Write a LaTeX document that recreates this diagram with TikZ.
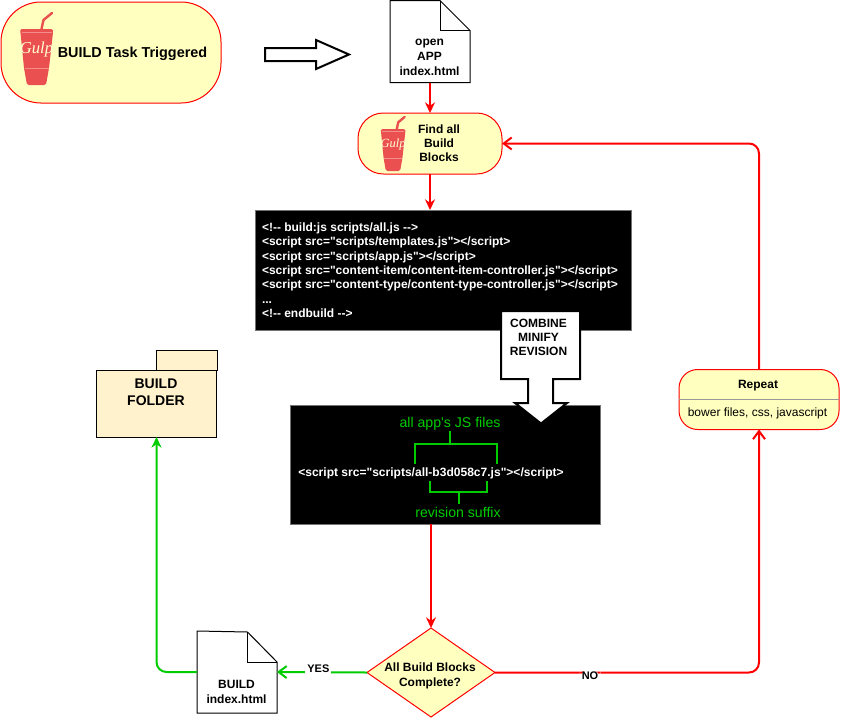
\documentclass[tikz,border=0pt]{standalone}
\usepackage{fontspec}
\newfontfamily\arial{Liberation Sans}
\newfontfamily\gulpfont[ItalicFont={Liberation Serif Italic}]{Liberation Serif}
\usetikzlibrary{arrows.meta,shapes.geometric,positioning}
\definecolor{pill}{HTML}{FFFFC0}
\definecolor{folderfill}{HTML}{FFF2CC}
\definecolor{gulpred}{HTML}{EB5050}
\definecolor{lime}{HTML}{00CC00}
\def\u{0.75pt}
\tikzset{
  x=0.75pt,y=-0.75pt,
  every node/.style={font=\arial\fontsize{9}{10.7}\selectfont\bfseries,inner sep=0pt,outer sep=0pt,align=center},
  pillbox/.style={draw=red,fill=pill,line width=0.75pt,rectangle},
  docbox/.style={rectangle,minimum width=80*\u,minimum height=82*\u},
  docline/.style={draw=black,fill=white,line width=0.75pt,line join=miter},
  codebox/.style={rectangle,fill=black,draw=black!55,line width=0.5pt},
  codetext/.style={text=white,align=left,font=\arial\fontsize{9.03}{10.7}\selectfont\bfseries},
  greentext/.style={text=lime,font=\arial\fontsize{10.6}{12}\selectfont},
  bracket/.style={draw=lime,line width=1.1pt},
  redflow/.style={draw=red,line width=1.5pt,-{Stealth[length=8pt,width=7.5pt]}},
  redopen/.style={draw=red,line width=1.5pt,rounded corners=7.5pt,-{Straight Barb[length=6pt,width=9pt]}},
  greenopen/.style={draw=lime,line width=1.5pt,-{Straight Barb[length=6pt,width=9pt]}},
  greenflow/.style={draw=lime,line width=1.5pt,rounded corners=7.5pt,-{Stealth[length=8pt,width=7.5pt]}},
  edgelabel/.style={fill=white,inner xsep=1.5pt,inner ysep=1.5pt,font=\arial\fontsize{8.25}{9.5}\selectfont\bfseries},
  blockarrow/.style={draw=black,line width=1.5pt,fill=white,line join=miter},
  gulpcup/.pic={
    \draw[gulpred,line width=1.8pt,line cap=round,line join=round] (5,0) -- (7,-9) -- (15.5,-16);
    \fill[gulpred,rounded corners=1.2pt] (-16.5,0) -- (16.5,0) -- (16.5,3.5) -- (12.5,39) -- (9.5,56) -- (-9.5,56) -- (-12.5,39) -- (-16,3.5) -- cycle;
    \draw[white!35!gulpred,line width=0.4pt] (-14.5,3.6) -- (15,3.6);
    \draw[white!35!gulpred,line width=0.4pt] (-12,39) -- (12,39);
    \node[transform shape,text=pill!70!white,font=\gulpfont\fontsize{12.5}{13}\selectfont\itshape] (-name) at (0,20) {Gulp};
  },
}
\begin{document}
\begin{tikzpicture}
\useasboundingbox (0,0) rectangle (841,721);
% Nodes
\node[pillbox,minimum width=220*\u,minimum height=101*\u,rounded corners=30pt] (task) at (111,52.5) {};
\pic (gulpa) at (36.5,29) {gulpcup};
\node[font=\arial\fontsize{10.8}{12}\selectfont\bfseries] (tasktext) at (132.5,54) {BUILD Task Triggered};

\node[docbox] (opendoc) at (430,41.5) {};
\draw[docline] (opendoc.north west) -- (440,0.5) -- (470,30.5) -- (opendoc.south east) -- (opendoc.south west) -- cycle;
\draw[line width=0.75pt] (440,0.5) -- (440,30.5) -- (470,30.5);
\node[font=\arial\fontsize{9}{11.3}\selectfont\bfseries] (opentext) at (429.5,57.5) {open\\APP\\index.html};

\draw[blockarrow] (265,48) -- (316,48) -- (316,40) -- (349,54.5) -- (316,69) -- (316,61) -- (265,61) -- cycle;

\node[pillbox,minimum width=144*\u,minimum height=61*\u,rounded corners=19pt] (find) at (430,143.5) {};
\pic[scale=0.75] (gulpb) at (393,129) {gulpcup};
\node (findtext) at (439,143) {Find all\\Build\\Blocks};

\node[codebox,minimum width=376*\u,minimum height=120*\u] (code) at (443,270) {};
\node[codetext,anchor=north west,font=\arial\fontsize{9}{10.7}\selectfont\bfseries] (codetxt) at (262,223) {<!-- build:js scripts/all.js -->\\
<script src="scripts/templates.js"></script>\\
<script src="scripts/app.js"></script>\\
<script src="content-item/content-item-controller.js"></script>\\
<script src="content-type/content-type-controller.js"></script>\\
...\\
<!-- endbuild -->};

\node[codebox,minimum width=310*\u,minimum height=119*\u] (result) at (445,464.5) {};
\node[codetext] (resulttxt) at (431,473) {<script src="scripts/all-b3d058c7.js"></script>};
\node[greentext] (alljs) at (450,424) {all app's JS files};
\node[greentext] (revision) at (458,512) {revision suffix};
\draw[bracket] (415,464) -- (415,444) -- (497,444) -- (497,464);
\draw[bracket] (450,431) -- (450,444);
\draw[bracket] (430,481) -- (430,492) -- (487,492) -- (487,481);
\draw[bracket] (459,492) -- (459,504);

\draw[blockarrow] (501,311) -- (580,311) -- (580,379) -- (553,379) -- (553,403) -- (567,403) -- (541,423.5) -- (515,403) -- (528,403) -- (528,379) -- (501,379) -- cycle;
\node (combine) at (538.5,337.5) {COMBINE\\MINIFY\\REVISION};

\node[diamond,draw=red,fill=pill,line width=0.75pt,minimum width=128*\u,minimum height=89*\u,aspect=1.44] (blocks) at (431,672.5) {};
\node (blockstext) at (430,676) {All Build Blocks\\Complete?};

\node[docbox] (builddoc) at (237,672) {};
\draw[docline] (builddoc.north west) -- (247.5,632) -- (277,662) -- (builddoc.south east) -- (builddoc.south west) -- cycle;
\draw[line width=0.75pt] (247.5,632) -- (247.5,662) -- (277,662);
\node (buildtext) at (236.5,692) {BUILD\\index.html};

\node[draw=black,fill=folderfill,line width=0.75pt,rectangle,minimum width=61*\u,minimum height=20*\u] (foldertab) at (186.5,360) {};
\node[draw=black,fill=folderfill,line width=0.75pt,rectangle,minimum width=120*\u,minimum height=67*\u] (folder) at (156.5,403.5) {};
\node[font=\arial\fontsize{10.5}{12.7}\selectfont\bfseries] (foldertext) at (156,392.5) {BUILD\\FOLDER};

\node[pillbox,minimum width=160*\u,minimum height=60*\u,rounded corners=14pt] (repeat) at (759,399.5) {};
\draw[black!40,line width=0.6pt] (repeat.west) -- (repeat.east);
\node (repeattext) at (758,386) {Repeat};
\node[font=\arial\fontsize{9}{10.7}\selectfont] (repeatsub) at (757.5,413.5) {bower files, css, javascript};

% Connectors
\draw[redflow] (opendoc.south) -- (find.north);
\draw[redflow] (find.south) -- (find.south |- code.north);
\draw[redflow] (blocks.north |- result.south) -- (blocks.north);
\draw[greenopen] (blocks.west) -- node[edgelabel,pos=0.54,yshift=3pt] (yes) {YES} (builddoc.east);
\draw[greenflow] (builddoc.west) -| (folder.south);
\draw[redopen] (blocks.east) -| node[edgelabel,pos=0.18,yshift=-2.25pt] (no) {NO} (repeat.south);
\draw[redopen] (repeat.north) |- (find.east);
\end{tikzpicture}
\end{document}
